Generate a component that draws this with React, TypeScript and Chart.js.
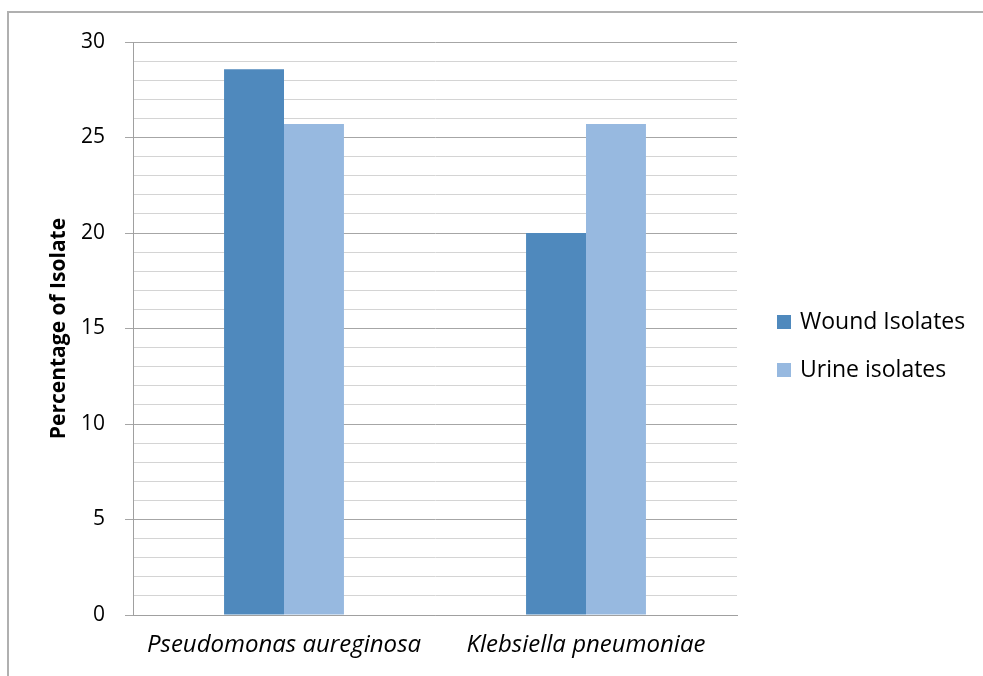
import React, { useEffect, useRef } from "react";
import { Chart, registerables } from "chart.js";

Chart.register(...registerables);

const categories = ["Pseudomonas aureginosa", "Klebsiella pneumoniae"];
const seriesNames = ["Wound Isolates", "Urine isolates"];
const woundValues = [28.57, 20.0];
const urineValues = [25.71, 25.71];
const yTickLabels = [0, 5, 10, 15, 20, 25, 30];

const FONT = "'Open Sans', 'Liberation Sans', sans-serif";

const legendPlugin = {
  id: "customLegend",
  afterDraw(chart: any) {
    const ctx = chart.ctx;
    const ds = chart.data.datasets;
    ctx.save();
    ctx.font = `23px ${FONT}`;
    ctx.textBaseline = "middle";
    ctx.textAlign = "left";
    ds.forEach((d: any, i: number) => {
      const cy = 322 + i * 48;
      ctx.fillStyle = d.backgroundColor;
      ctx.fillRect(777, cy - 7, 14, 14);
      ctx.fillStyle = "#000";
      ctx.fillText(d.label, 800, cy);
    });
    ctx.restore();
  },
};

export default function App() {
  const ref = useRef<HTMLCanvasElement>(null);
  useEffect(() => {
    const chart = new Chart(ref.current!, {
      type: "bar",
      data: {
        labels: categories,
        datasets: [
          { label: seriesNames[0], data: woundValues, backgroundColor: "rgb(79,137,189)", borderWidth: 0 },
          { label: seriesNames[1], data: urineValues, backgroundColor: "rgb(151,185,224)", borderWidth: 0 },
        ],
      },
      options: {
        responsive: false,
        animation: false,
        layout: { padding: { top: 42, right: 246, left: 0, bottom: 0 } },
        plugins: { legend: { display: false }, tooltip: { enabled: false } },
        datasets: { bar: { categoryPercentage: 0.397, barPercentage: 1 } },
        scales: {
          x: {
            grid: { display: false, drawTicks: false },
            border: { display: true, color: "#a0a0a0", width: 1 },
            ticks: {
              color: "#000",
              padding: 16,
              font: { family: FONT, size: 24, style: "italic" },
            },
            afterFit(scale: any) {
              scale.height = 61;
            },
          },
          y: {
            min: 0,
            max: 30,
            ticks: {
              stepSize: 1,
              autoSkip: false,
              maxTicksLimit: 100,
              color: "#000",
              padding: 20,
              font: { family: FONT, size: 21 },
              callback: (v: any) => (yTickLabels.includes(Number(v)) ? String(v) : ""),
            },
            grid: {
              tickLength: 8,
              lineWidth: 1,
              color: (c: any) => (c.tick && c.tick.value % 5 === 0 ? "#a6a6a6" : "#d4d4d4"),
              tickColor: (c: any) => (c.tick && c.tick.value % 5 === 0 ? "#a6a6a6" : "rgba(0,0,0,0)"),
            },
            border: { display: true, color: "#a0a0a0", width: 1 },
            title: {
              display: true,
              text: "Percentage of Isolate",
              color: "#000",
              font: { family: FONT, size: 21, weight: "bold" },
              padding: { top: 46, bottom: 0 },
            },
            afterFit(scale: any) {
              scale.width = 133;
            },
          },
        },
      },
      plugins: [legendPlugin],
    } as any);
    return () => chart.destroy();
  }, []);

  return (
    <div style={{ position: "fixed", left: 0, top: 0, width: 983, height: 676, overflow: "hidden", background: "#fff" }}>
      <canvas ref={ref} width={983} height={676} style={{ position: "absolute", left: 0, top: 0 }} />
      <div
        style={{
          position: "absolute",
          left: 7,
          top: 11,
          width: 1100,
          height: 800,
          border: "2px solid #b0b0b0",
          boxSizing: "border-box",
          pointerEvents: "none",
        }}
      />
    </div>
  );
}
